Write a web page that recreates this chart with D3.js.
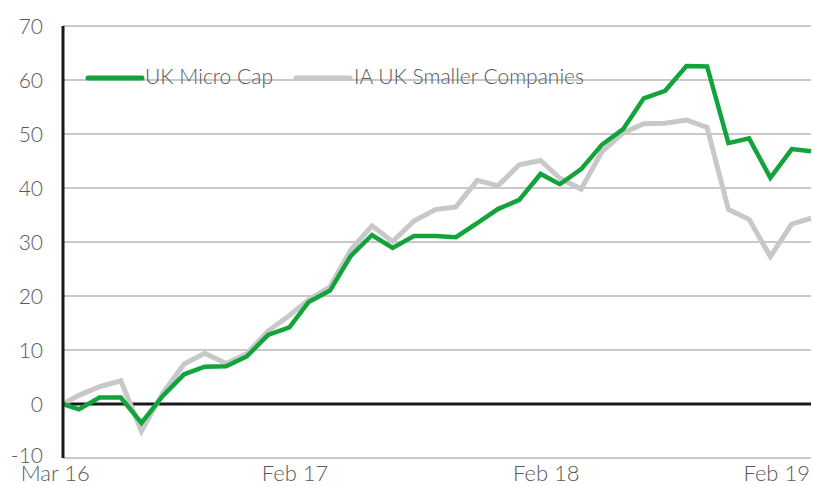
<!DOCTYPE html>
<html>
<head>
<meta charset="utf-8">
<script src="https://cdn.jsdelivr.net/npm/d3@7"></script>
<style>
  html, body { margin: 0; padding: 0; background: #fff; }
  svg { display: block; }
  text { font-family: Lato, "Open Sans", sans-serif; font-weight: 300; fill: #595959; }
</style>
</head>
<body>
<svg id="chart" width="813" height="486"></svg>
<script>
// Data: first point is the start date, then month-end values
const startDate = new Date(2016, 2, 8);
const monthEnds = d3.range(36).map(i => new Date(2016, 3 + i, 0));
const dates = [startDate, ...monthEnds];

const seriesNames = ["UK Micro Cap", "IA UK Smaller Companies"];
const ukMicroCap = [0, -1.0, 1.2, 1.2, -3.5, 1.5, 5.5, 6.9, 7.0, 8.8, 12.8, 14.2, 18.9, 21.0, 27.4, 31.3, 28.9, 31.1, 31.1, 30.9, 33.5, 36.1, 37.8, 42.6, 40.7, 43.5, 48.0, 50.9, 56.6, 58.0, 62.6, 62.5, 48.3, 49.2, 41.9, 47.2, 46.8];
const iaUkSmaller = [0, 1.6, 3.2, 4.3, -5.0, 2.0, 7.4, 9.4, 7.5, 9.3, 13.5, 16.4, 19.3, 21.7, 28.5, 33.0, 30.1, 33.9, 36.0, 36.5, 41.4, 40.4, 44.3, 45.1, 41.8, 39.8, 46.7, 50.2, 51.9, 52.0, 52.6, 51.2, 36.0, 34.2, 27.3, 33.3, 34.4];

const yTicks = [-10, 0, 10, 20, 30, 40, 50, 60, 70];
const xTickDates = [new Date(2016, 2, 1), new Date(2017, 1, 1), new Date(2018, 1, 1), new Date(2019, 1, 1)];
const xTickLabels = ["Mar 16", "Feb 17", "Feb 18", "Feb 19"];

const svg = d3.select("#chart");
const mLeft = 63, mRight = 811, mTop = 26, mBottom = 458;

const x = d3.scaleTime().domain([dates[0], dates[dates.length - 1]]).range([mLeft, mRight]);
const y = d3.scaleLinear().domain([-10, 70]).range([mBottom, mTop]);

// gridlines
svg.append("g").selectAll("line").data(yTicks.filter(d => d !== 0)).join("line")
  .attr("x1", mLeft).attr("x2", mRight)
  .attr("y1", d => y(d)).attr("y2", d => y(d))
  .attr("stroke", "#c9c9c9").attr("stroke-width", 2.2);

// y labels
svg.append("g").selectAll("text").data(yTicks).join("text")
  .attr("x", 43).attr("y", d => y(d) - (d === -10 ? 3 : 0))
  .attr("dy", "0.36em")
  .attr("text-anchor", "end")
  .attr("font-size", 21)
  .text(d => d);

// x labels
svg.append("g").selectAll("text").data(xTickDates).join("text")
  .attr("x", (d, i) => i === xTickDates.length - 1 ? 810 : x(d) + (i === 0 ? -3 : 5))
  .attr("y", 481)
  .attr("text-anchor", (d, i) => i === xTickDates.length - 1 ? "end" : "middle")
  .attr("font-size", 22)
  .text((d, i) => xTickLabels[i]);

// zero line
svg.append("line")
  .attr("x1", mLeft).attr("x2", mRight)
  .attr("y1", y(0)).attr("y2", y(0))
  .attr("stroke", "#1a1a1a").attr("stroke-width", 3);

// lines
const line = d3.line().x((d, i) => x(dates[i])).y(d => y(d));
svg.append("path").datum(iaUkSmaller)
  .attr("d", line).attr("fill", "none")
  .attr("stroke", "#c8c8c8").attr("stroke-width", 5).attr("stroke-linejoin", "miter");
svg.append("path").datum(ukMicroCap)
  .attr("d", line).attr("fill", "none")
  .attr("stroke", "#12a33b").attr("stroke-width", 4.5).attr("stroke-linejoin", "miter");

// left axis
svg.append("line")
  .attr("x1", mLeft).attr("x2", mLeft)
  .attr("y1", mTop).attr("y2", mBottom)
  .attr("stroke", "#1a1a1a").attr("stroke-width", 3);

// legend
const legend = [
  { name: seriesNames[0], color: "#12a33b", x1: 88, x2: 142, tx: 145 },
  { name: seriesNames[1], color: "#c8c8c8", x1: 296, x2: 350, tx: 354 }
];
const lg = svg.append("g");
legend.forEach(l => {
  lg.append("line").attr("x1", l.x1).attr("x2", l.x2).attr("y1", 78).attr("y2", 78)
    .attr("stroke", l.color).attr("stroke-width", 5).attr("stroke-linecap", "round");
  lg.append("text").attr("x", l.tx).attr("y", 77).attr("dy", "0.35em")
    .attr("font-size", 21).text(l.name);
});
</script>
</body>
</html>
